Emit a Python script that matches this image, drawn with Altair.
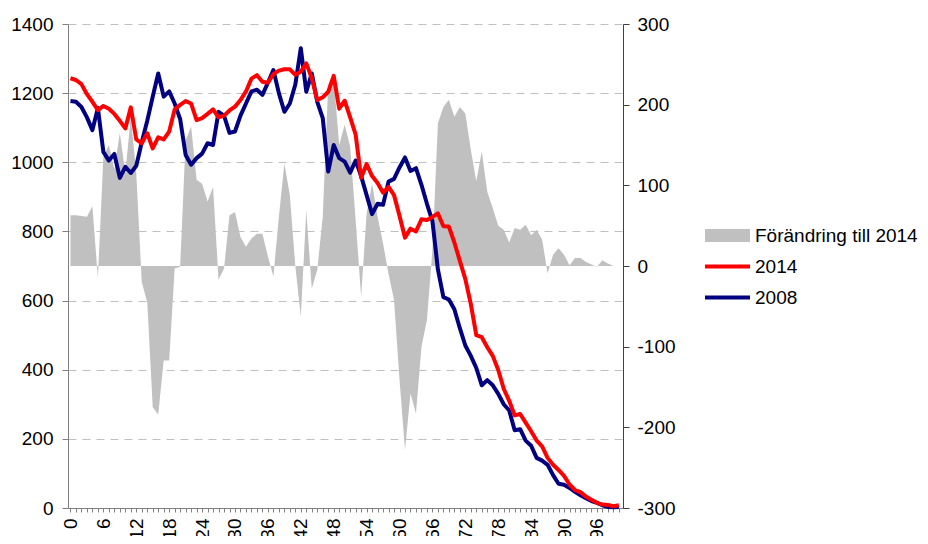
import altair as alt
import pandas as pd

ages = list(range(0, 101))

y2008 = [1177, 1175, 1160, 1130, 1093, 1157, 1030, 1005, 1024, 955,
         987, 969, 990, 1058, 1120, 1190, 1257, 1190, 1205, 1170,
         1125, 1021, 993, 1012, 1025, 1055, 1050, 1146, 1135, 1085,
         1089, 1135, 1170, 1205, 1210, 1195, 1230, 1267, 1200, 1146,
         1170, 1225, 1330, 1204, 1257, 1175, 1128, 973, 1050, 1012,
         1002, 970, 1005, 960, 905, 850, 880, 877, 944, 952,
         985, 1014, 975, 983, 935, 880, 830, 690, 610, 603,
         575, 520, 470, 440, 405, 355, 370, 355, 330, 300,
         282, 225, 228, 195, 180, 145, 137, 125, 95, 70,
         67, 58, 47, 37, 28, 20, 15, 8, 3, 2, 3]

y2014 = [1243, 1238, 1226, 1197, 1175, 1151, 1163, 1155, 1140, 1120,
         1098, 1159, 1066, 1055, 1084, 1040, 1072, 1066, 1089, 1153,
         1166, 1177, 1170, 1122, 1128, 1140, 1153, 1130, 1135, 1150,
         1161, 1180, 1205, 1242, 1252, 1233, 1230, 1255, 1265, 1269,
         1269, 1253, 1262, 1286, 1243, 1180, 1188, 1204, 1250, 1155,
         1178, 1130, 1080, 955, 995, 960, 940, 912, 929, 905,
         845, 782, 808, 800, 835, 833, 842, 852, 815, 814,
         768, 715, 662, 590, 500, 494, 465, 440, 399, 345,
         310, 268, 272, 247, 222, 195, 178, 145, 125, 110,
         93, 68, 52, 46, 33, 24, 15, 10, 9, 5, 8]

diff = [63, 63, 62, 61, 74, -15, 135, 150, 120, 165,
        115, 185, 115, -20, -45, -175, -184, -117, -117, -3,
        -1, 156, 173, 107, 102, 80, 98, -17, -3, 63,
        67, 36, 24, 34, 40, 40, 12, -13, 61, 127,
        88, 0, -63, 69, -28, -5, 61, 225, 233, 150,
        175, 148, 57, -38, 65, 102, 61, 28, -10, -42,
        -141, -228, -158, -183, -100, -67, 20, 177, 197, 206,
        185, 197, 189, 144, 105, 142, 92, 72, 50, 45,
        29, 47, 45, 51, 38, 45, 33, -9, 14, 22,
        14, 1, 10, 10, 5, 2, -1, 7, 3, 0, 0]

left_ticks = [0, 200, 400, 600, 800, 1000, 1200, 1400]
right_ticks = [-300, -200, -100, 0, 100, 200, 300]

df = pd.DataFrame({"age": ages, "y2008": y2008, "y2014": y2014, "diff": diff})

FONT = "Liberation Sans"
FS = 19

x_enc = alt.X(
    "age:Q",
    scale=alt.Scale(domain=[-0.45, 100.75], nice=False, zero=False),
    axis=alt.Axis(
        values=ages,
        labelExpr="datum.value % 6 == 0 ? datum.label : ''",
        labelAngle=-90,
        labelOverlap=False,
        labelFlush=False,
        labelBound=False,
        tickSize=4,
        labelPadding=6,
        grid=False,
        title=None,
        domainColor="#808080",
        tickColor="#808080",
    ),
)

base = alt.Chart(df)

area = base.transform_calculate(s="'Förändring till 2014'").mark_area(
    interpolate="linear"
).encode(
    x=x_enc,
    y=alt.Y(
        "diff:Q",
        stack=None,
        scale=alt.Scale(domain=[-300, 300], nice=False),
        axis=alt.Axis(
            orient="right",
            values=right_ticks,
            labelExpr="toString(datum.value)",
            grid=False,
            title=None,
            tickSize=6,
            labelPadding=8,
            domainColor="#404040",
            tickColor="#404040",
        ),
    ),
    fill=alt.Fill(
        "s:N",
        scale=alt.Scale(domain=["Förändring till 2014"], range=["#C0C0C0"]),
        legend=alt.Legend(
            orient="none",
            legendX=637,
            legendY=189,
            title=None,
            padding=0,
            symbolType="M-1,-0.29L1,-0.29L1,0.29L-1,0.29Z",
            symbolSize=2025,
            symbolStrokeWidth=0,
            labelOffset=5,
            labelLimit=400,
        ),
    ),
)

left_axis = alt.Axis(
    values=left_ticks,
    labelExpr="toString(datum.value)",
    grid=True,
    gridDash=[8, 6],
    gridColor="#BFBFBF",
    gridWidth=1,
    title=None,
    tickSize=6,
    labelPadding=9,
    domainColor="#808080",
    tickColor="#808080",
)
left_scale = alt.Scale(domain=[0, 1400], nice=False)

line2008 = base.transform_calculate(s="'2008'").mark_line(
    strokeWidth=4, strokeJoin="round"
).encode(
    x=x_enc,
    y=alt.Y("y2008:Q", scale=left_scale, axis=left_axis),
    stroke=alt.Stroke(
        "s:N",
        scale=alt.Scale(domain=["2008"], range=["#000080"]),
        legend=alt.Legend(
            orient="none",
            legendX=635,
            legendY=249,
            title=None,
            padding=0,
            symbolType="stroke",
            symbolSize=2025,
            symbolStrokeWidth=4,
            labelOffset=3,
            labelLimit=400,
        ),
    ),
)

line2014 = base.transform_calculate(s="'2014'").mark_line(
    strokeWidth=4, strokeJoin="round"
).encode(
    x=x_enc,
    y=alt.Y("y2014:Q", scale=left_scale, axis=left_axis),
    stroke=alt.Stroke(
        "s:N",
        scale=alt.Scale(domain=["2014"], range=["#FF0000"]),
        legend=alt.Legend(
            orient="none",
            legendX=635,
            legendY=218,
            title=None,
            padding=0,
            symbolType="stroke",
            symbolSize=2025,
            symbolStrokeWidth=4,
            labelOffset=3,
            labelLimit=400,
        ),
    ),
)

lines = alt.layer(line2008, line2014).resolve_scale(stroke="independent").resolve_legend(stroke="independent")

chart = alt.layer(area, lines).resolve_scale(y="independent").properties(
    width=555,
    height=484,
    autosize=alt.AutoSizeParams(type="none"),
    padding={"left": 60, "top": 16, "right": 297, "bottom": 28},
).configure_view(stroke=None).configure_axis(
    labelFont=FONT, labelFontSize=FS, labelColor="#000000"
).configure_legend(
    labelFont=FONT, labelFontSize=FS, labelColor="#000000"
)

chart.save("out.html", embed_options={"renderer": "svg", "actions": False})
